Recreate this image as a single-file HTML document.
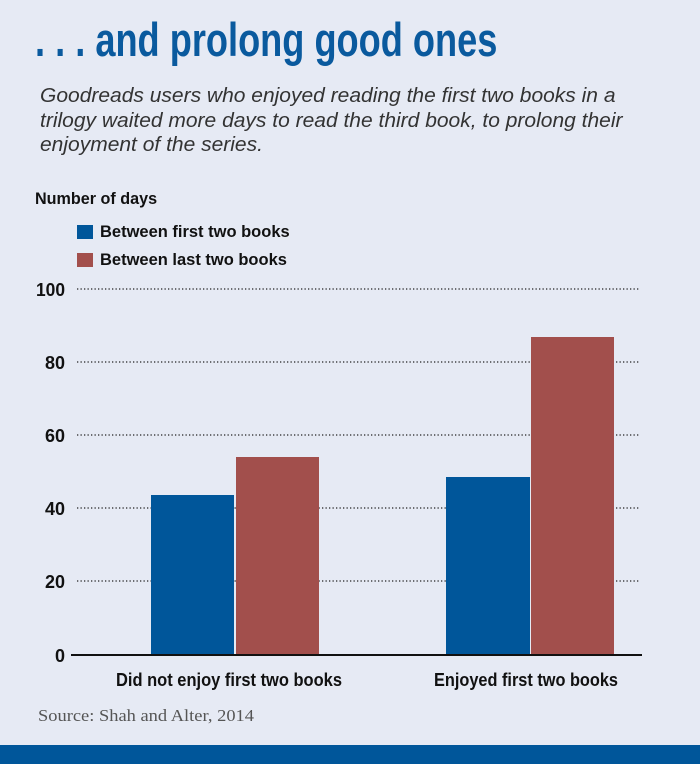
<!DOCTYPE html>
<html><head><style>
body{margin:0;width:700px;height:764px;background:#e6eaf4;position:relative;overflow:hidden;font-family:"Liberation Sans",sans-serif}
.t{position:absolute;white-space:nowrap;transform-origin:0 0}
</style></head><body>
<div class="t" style="left:35px;top:12px;font-size:47px;font-weight:bold;color:#0a5a9e;transform:scaleX(0.77)">. . . and prolong good ones</div>
<div class="t" style="left:40px;top:84px;font-size:20px;font-style:italic;color:#333;line-height:24.5px;transform:scaleX(1.05)">Goodreads users who enjoyed reading the first two books in a<br>trilogy waited more days to read the third book, to prolong their<br>enjoyment of the series.</div>
<div class="t" style="left:35px;top:189px;font-size:17px;font-weight:bold;color:#111;transform:scaleX(0.95)">Number of days</div>
<div style="position:absolute;left:77px;top:225px;width:16px;height:14px;background:#00569a"></div>
<div style="position:absolute;left:77px;top:253px;width:16px;height:14px;background:#a24f4c"></div>
<div class="t" style="left:100px;top:222px;font-size:17px;font-weight:bold;color:#111;transform:scaleX(0.97)">Between first two books</div>
<div class="t" style="left:100px;top:250px;font-size:17px;font-weight:bold;color:#111;transform:scaleX(0.97)">Between last two books</div>
<svg width="700" height="764" style="position:absolute;left:0;top:0">
<g stroke="#222" stroke-width="1.3" stroke-dasharray="1.3 2.2">
<line x1="77" x2="640" y1="289" y2="289"/><line x1="77" x2="640" y1="362" y2="362"/><line x1="77" x2="640" y1="435" y2="435"/><line x1="77" x2="640" y1="508" y2="508"/><line x1="77" x2="640" y1="581" y2="581"/>
</g>
<rect x="151" y="495" width="83" height="160" fill="#00569a"/>
<rect x="236" y="457" width="83" height="198" fill="#a24f4c"/>
<rect x="446" y="477" width="84" height="178" fill="#00569a"/>
<rect x="531" y="337" width="83" height="318" fill="#a24f4c"/>
<line x1="71" x2="642" y1="655" y2="655" stroke="#111" stroke-width="2"/>
<g font-family="Liberation Sans" font-weight="bold" font-size="18" fill="#111" text-anchor="end">
<text x="65" y="296" textLength="29" lengthAdjust="spacingAndGlyphs">100</text>
<text x="65" y="369" textLength="20" lengthAdjust="spacingAndGlyphs">80</text>
<text x="65" y="442" textLength="20" lengthAdjust="spacingAndGlyphs">60</text>
<text x="65" y="515" textLength="20" lengthAdjust="spacingAndGlyphs">40</text>
<text x="65" y="588" textLength="20" lengthAdjust="spacingAndGlyphs">20</text>
<text x="65" y="662" textLength="10" lengthAdjust="spacingAndGlyphs">0</text>
</g>
<g font-family="Liberation Sans" font-weight="bold" font-size="18" fill="#111">
<text x="116" y="686" textLength="226" lengthAdjust="spacingAndGlyphs">Did not enjoy first two books</text>
<text x="434" y="686" textLength="184" lengthAdjust="spacingAndGlyphs">Enjoyed first two books</text>
</g>
<text x="38" y="721" font-family="Liberation Serif" font-size="17" fill="#555" textLength="216" lengthAdjust="spacingAndGlyphs">Source: Shah and Alter, 2014</text>
<rect x="0" y="745" width="700" height="19" fill="#00569a"/>
</svg>
</body></html>
